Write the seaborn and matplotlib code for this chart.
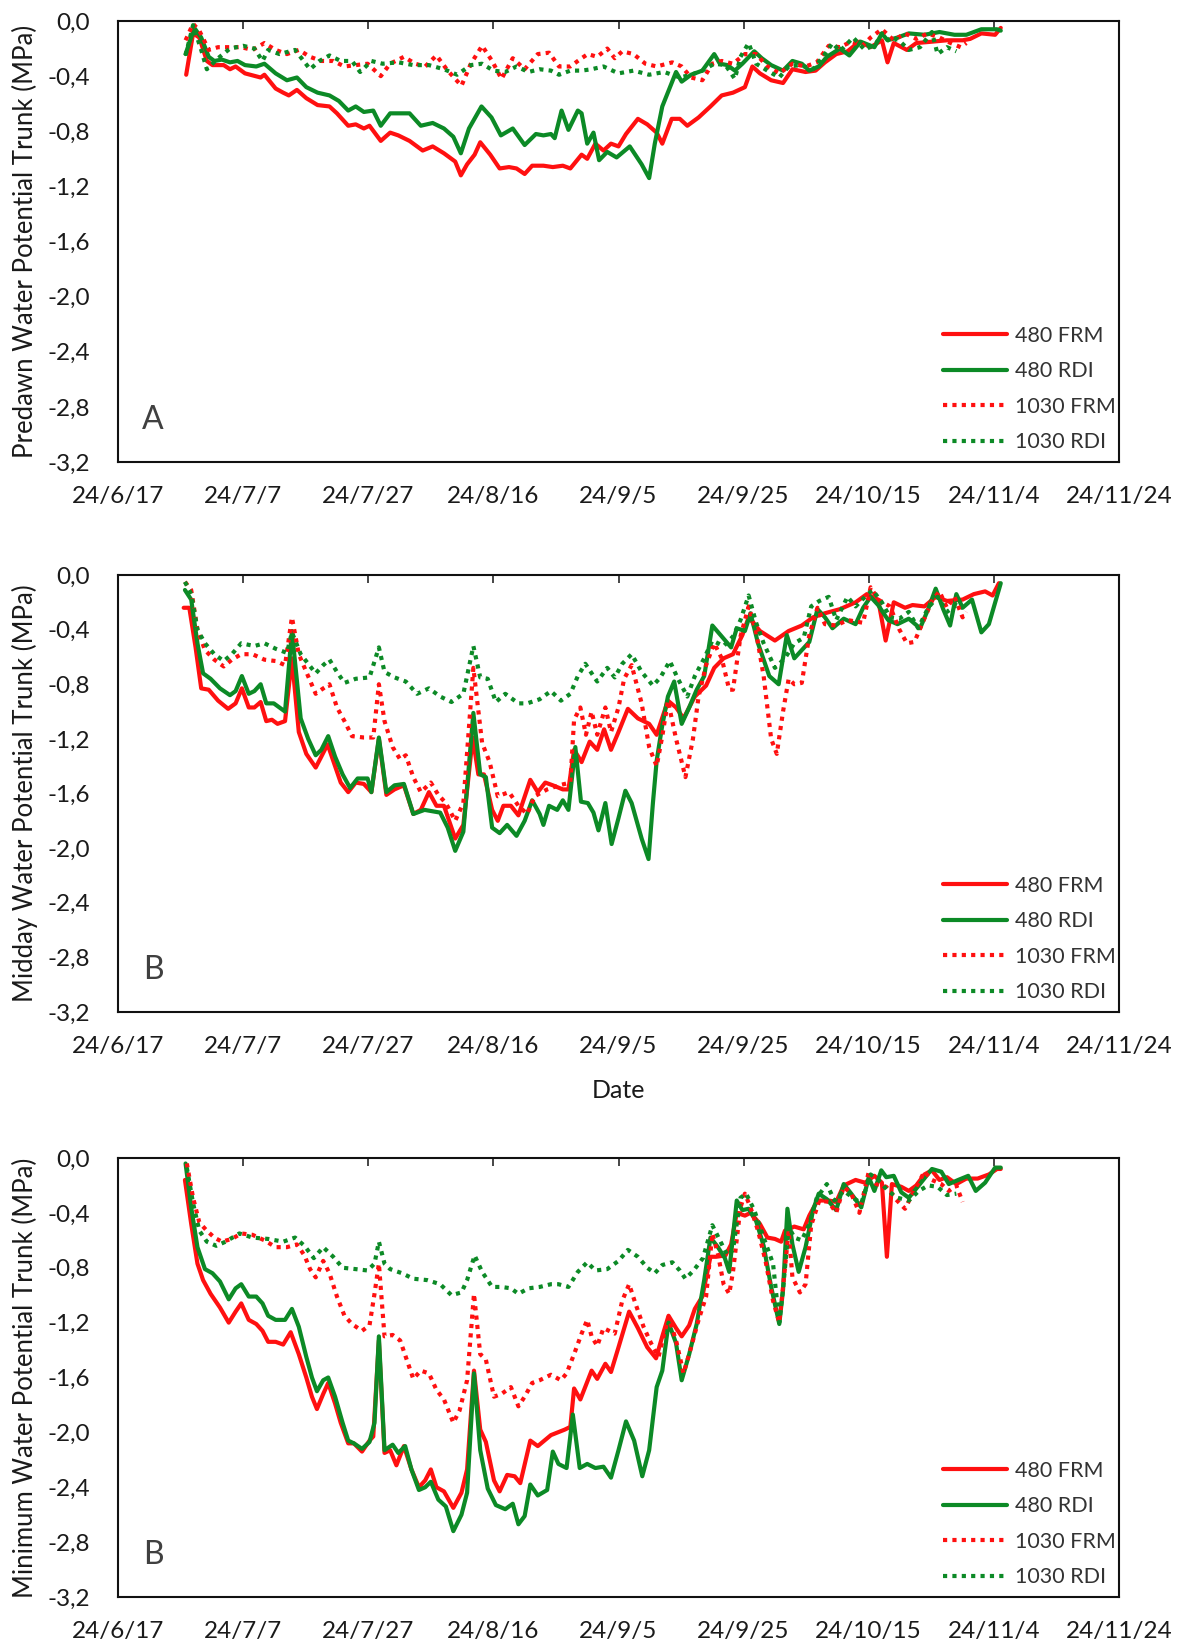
import matplotlib
matplotlib.use("Agg")
import matplotlib.pyplot as plt
from matplotlib.lines import Line2D
from matplotlib.ticker import FixedLocator, FuncFormatter
import pandas as pd
import seaborn as sns

# ---------------- data ----------------
BASE_DATE = "2024-06-17"
x_tick_days = [0, 20, 40, 60, 80, 100, 120, 140, 160]
x_tick_labels = ["24/6/17", "24/7/7", "24/7/27", "24/8/16", "24/9/5",
                 "24/9/25", "24/10/15", "24/11/4", "24/11/24"]
y_ticks = [0.0, -0.4, -0.8, -1.2, -1.6, -2.0, -2.4, -2.8, -3.2]
series_names = ["480 FRM", "480 RDI", "1030 FRM", "1030 RDI"]
panel_ylabels = ["Predawn Water Potential Trunk (MPa)",
                 "Midday Water Potential Trunk (MPa)",
                 "Minimum Water Potential Trunk (MPa)"]
panel_letters = ["A", "B", "B"]

# (days after 2024-06-17, MPa)
predawn_480_frm = [
    (10.9, -0.39), (12.0, -0.09), (13.0, -0.12), (14.2, -0.29), (15.1, -0.32), (16.9, -0.32),
    (17.9, -0.35), (18.8, -0.33), (20.3, -0.38), (22.8, -0.41), (23.4, -0.39), (25.2, -0.49),
    (26.4, -0.52), (27.3, -0.54), (28.6, -0.50), (30.1, -0.56), (31.9, -0.61), (33.8, -0.62),
    (35.0, -0.67), (36.8, -0.76), (38.0, -0.75), (39.3, -0.78), (40.2, -0.76), (42.0, -0.87),
    (43.5, -0.81), (44.8, -0.83), (46.6, -0.87), (48.7, -0.94), (50.3, -0.91), (52.1, -0.96),
    (53.9, -1.02), (54.8, -1.12), (55.8, -1.04), (57.0, -0.97), (57.9, -0.88), (59.5, -0.97),
    (61.0, -1.07), (62.5, -1.06), (63.7, -1.07), (65.0, -1.11), (66.2, -1.05), (68.0, -1.05),
    (69.5, -1.06), (71.1, -1.05), (72.3, -1.07), (74.1, -0.97), (75.0, -1.00), (76.3, -0.89),
    (77.6, -0.94), (78.8, -0.89), (80.0, -0.91), (81.2, -0.82), (83.1, -0.71), (84.6, -0.75),
    (86.1, -0.81), (87.0, -0.89), (88.5, -0.71), (89.8, -0.71), (91.0, -0.76), (92.8, -0.70),
    (94.7, -0.62), (96.5, -0.54), (98.3, -0.52), (100.2, -0.48), (101.4, -0.33), (102.6, -0.38),
    (104.4, -0.43), (106.3, -0.45), (107.8, -0.35), (109.9, -0.37), (111.5, -0.36), (113.0, -0.30),
    (114.8, -0.24), (116.6, -0.22), (118.5, -0.15), (120.3, -0.19), (122.1, -0.14), (123.0, -0.30),
    (124.0, -0.16), (126.1, -0.21), (127.6, -0.16), (130.1, -0.15), (132.5, -0.14), (135.0, -0.14),
    (136.2, -0.13), (138.0, -0.09), (140.2, -0.10), (141.1, -0.05)]
predawn_480_rdi = [
    (10.8, -0.24), (12.2, -0.05), (13.3, -0.12), (14.5, -0.26), (15.4, -0.29), (16.6, -0.28),
    (17.9, -0.30), (19.1, -0.29), (20.3, -0.32), (22.1, -0.33), (23.4, -0.31), (25.2, -0.38),
    (27.0, -0.43), (28.6, -0.41), (30.1, -0.48), (31.9, -0.52), (33.8, -0.54), (35.3, -0.58),
    (36.8, -0.65), (38.0, -0.62), (39.3, -0.66), (40.8, -0.65), (42.0, -0.76), (43.5, -0.67),
    (46.6, -0.67), (48.4, -0.76), (50.3, -0.74), (52.1, -0.78), (53.6, -0.84), (54.8, -0.96),
    (56.1, -0.78), (58.1, -0.62), (59.7, -0.70), (61.2, -0.83), (63.1, -0.78), (65.0, -0.90),
    (66.8, -0.82), (68.0, -0.83), (69.2, -0.82), (69.8, -0.85), (70.9, -0.65), (72.0, -0.79),
    (73.5, -0.65), (74.1, -0.67), (75.0, -0.89), (76.0, -0.81), (76.9, -1.01), (78.2, -0.95),
    (79.7, -0.99), (81.8, -0.91), (83.7, -1.04), (84.9, -1.14), (85.8, -0.89), (87.0, -0.62),
    (89.2, -0.37), (90.1, -0.44), (91.6, -0.39), (93.4, -0.36), (95.3, -0.24), (96.2, -0.31),
    (97.4, -0.32), (98.6, -0.36), (99.8, -0.31), (101.7, -0.22), (102.9, -0.27), (104.4, -0.32),
    (106.3, -0.36), (107.8, -0.29), (109.3, -0.31), (110.5, -0.36), (112.0, -0.33), (113.3, -0.26),
    (115.4, -0.20), (116.9, -0.25), (118.7, -0.15), (120.9, -0.19), (122.1, -0.09), (123.0, -0.14),
    (124.6, -0.12), (126.4, -0.09), (128.9, -0.10), (131.3, -0.08), (133.7, -0.10), (135.6, -0.10),
    (138.0, -0.06), (140.5, -0.06), (141.1, -0.07)]
predawn_1030_frm = [
    (10.8, -0.14), (12.0, -0.02), (13.0, -0.07), (14.5, -0.21), (16.0, -0.19), (17.9, -0.19),
    (19.7, -0.19), (21.5, -0.21), (23.4, -0.16), (25.2, -0.21), (27.0, -0.24), (28.9, -0.21),
    (30.7, -0.26), (32.5, -0.29), (34.4, -0.29), (36.2, -0.33), (38.0, -0.32), (39.9, -0.31),
    (42.0, -0.40), (43.5, -0.31), (45.7, -0.26), (47.5, -0.31), (49.1, -0.33), (50.9, -0.25),
    (52.7, -0.36), (54.9, -0.47), (56.4, -0.31), (58.2, -0.18), (59.8, -0.29), (61.3, -0.42),
    (63.1, -0.27), (65.0, -0.35), (67.1, -0.24), (68.9, -0.23), (70.5, -0.33), (72.3, -0.33),
    (74.1, -0.27), (75.1, -0.24), (76.6, -0.26), (78.2, -0.20), (79.4, -0.27), (80.6, -0.22),
    (82.4, -0.24), (84.3, -0.31), (86.1, -0.33), (88.6, -0.30), (90.1, -0.33), (91.6, -0.41),
    (93.4, -0.43), (95.0, -0.31), (96.5, -0.29), (98.3, -0.31), (100.2, -0.24), (102.0, -0.24),
    (103.8, -0.33), (105.7, -0.38), (107.8, -0.31), (109.9, -0.33), (111.7, -0.30), (113.6, -0.18),
    (115.4, -0.19), (117.2, -0.15), (119.0, -0.18), (120.3, -0.12), (122.1, -0.06), (124.0, -0.14),
    (125.8, -0.09), (127.6, -0.13), (129.4, -0.09), (131.3, -0.12), (133.1, -0.16), (134.7, -0.19),
    (135.6, -0.16)]
predawn_1030_rdi = [
    (10.8, -0.25), (12.0, -0.03), (13.3, -0.21), (14.2, -0.35), (16.0, -0.27), (17.9, -0.20),
    (20.0, -0.18), (21.8, -0.20), (23.1, -0.29), (24.0, -0.21), (25.8, -0.24), (28.3, -0.21),
    (30.7, -0.35), (32.2, -0.29), (33.8, -0.25), (35.6, -0.29), (37.4, -0.29), (38.7, -0.37),
    (40.5, -0.29), (42.3, -0.31), (44.8, -0.30), (47.2, -0.32), (49.7, -0.32), (52.1, -0.35),
    (54.2, -0.39), (56.4, -0.32), (58.2, -0.31), (60.0, -0.36), (61.9, -0.37), (63.7, -0.33),
    (65.6, -0.37), (67.4, -0.35), (69.2, -0.36), (70.5, -0.39), (72.3, -0.36), (74.1, -0.36),
    (75.7, -0.35), (77.6, -0.33), (80.0, -0.38), (82.4, -0.36), (84.9, -0.39), (87.3, -0.37),
    (89.8, -0.41), (91.6, -0.39), (93.4, -0.36), (95.3, -0.31), (97.1, -0.32), (98.6, -0.42),
    (99.5, -0.26), (100.8, -0.16), (102.0, -0.31), (103.8, -0.36), (105.7, -0.41), (107.2, -0.33),
    (109.0, -0.32), (111.1, -0.35), (113.0, -0.24), (114.2, -0.16), (115.4, -0.22), (117.5, -0.12),
    (119.4, -0.21), (121.2, -0.16), (122.1, -0.09), (123.4, -0.15), (124.6, -0.13), (126.4, -0.21),
    (128.2, -0.19), (130.1, -0.08), (131.0, -0.24), (132.5, -0.19), (134.0, -0.22)]

midday_480_frm = [
    (10.5, -0.24), (11.4, -0.24), (12.4, -0.53), (13.3, -0.83), (14.5, -0.84), (16.0, -0.92),
    (17.6, -0.98), (18.8, -0.94), (19.8, -0.83), (20.9, -0.97), (21.8, -0.97), (22.8, -0.93),
    (23.7, -1.07), (24.6, -1.06), (25.5, -1.09), (26.7, -1.07), (27.8, -0.61), (28.9, -1.15),
    (30.1, -1.31), (31.6, -1.41), (32.5, -1.33), (33.5, -1.24), (34.4, -1.36), (35.6, -1.52),
    (36.8, -1.59), (38.0, -1.52), (39.3, -1.53), (40.5, -1.59), (41.7, -1.20), (42.9, -1.61),
    (44.2, -1.57), (45.7, -1.54), (47.2, -1.75), (48.4, -1.72), (49.7, -1.59), (50.9, -1.69),
    (52.1, -1.69), (53.9, -1.93), (55.2, -1.83), (56.7, -1.19), (57.6, -1.46), (58.5, -1.46),
    (59.8, -1.72), (60.7, -1.80), (61.6, -1.69), (62.8, -1.69), (64.0, -1.76), (65.9, -1.50),
    (67.1, -1.59), (68.3, -1.52), (69.5, -1.54), (71.1, -1.57), (72.0, -1.57), (72.9, -1.28),
    (74.1, -1.37), (75.4, -1.22), (76.6, -1.28), (77.7, -1.13), (78.8, -1.28), (80.0, -1.15),
    (81.5, -0.98), (83.1, -1.05), (84.9, -1.09), (86.1, -1.17), (87.9, -0.92), (89.2, -0.97),
    (90.4, -1.05), (92.2, -0.89), (94.0, -0.81), (95.3, -0.68), (96.8, -0.61), (98.3, -0.58),
    (99.8, -0.44), (100.8, -0.31), (102.6, -0.41), (105.0, -0.48), (107.2, -0.41), (109.3, -0.37),
    (111.1, -0.31), (113.0, -0.28), (115.4, -0.25), (117.9, -0.20), (119.7, -0.14), (121.5, -0.18),
    (122.7, -0.48), (124.0, -0.20), (125.8, -0.24), (127.0, -0.22), (128.9, -0.23), (130.7, -0.16),
    (132.5, -0.19), (135.0, -0.18), (136.8, -0.14), (138.6, -0.12), (139.8, -0.15), (140.8, -0.06)]
midday_480_rdi = [
    (10.7, -0.11), (11.7, -0.18), (12.7, -0.50), (13.6, -0.72), (14.8, -0.76), (16.3, -0.83),
    (17.9, -0.88), (18.8, -0.85), (19.8, -0.74), (20.9, -0.87), (21.8, -0.85), (22.8, -0.80),
    (23.7, -0.94), (24.9, -0.94), (26.7, -1.00), (27.8, -0.41), (29.2, -1.05), (30.4, -1.20),
    (31.6, -1.32), (32.5, -1.28), (33.6, -1.18), (34.7, -1.33), (35.9, -1.46), (37.1, -1.56),
    (38.3, -1.49), (39.9, -1.49), (40.5, -1.59), (41.7, -1.19), (42.9, -1.59), (44.2, -1.54),
    (45.7, -1.53), (47.2, -1.75), (49.0, -1.72), (51.5, -1.74), (52.7, -1.85), (53.9, -2.02),
    (55.2, -1.88), (56.8, -1.01), (57.9, -1.46), (58.8, -1.48), (59.8, -1.85), (61.0, -1.89),
    (62.2, -1.83), (63.7, -1.91), (65.0, -1.80), (66.2, -1.65), (67.4, -1.75), (68.0, -1.83),
    (68.9, -1.69), (70.2, -1.72), (71.1, -1.65), (72.0, -1.72), (73.1, -1.26), (74.0, -1.66),
    (75.1, -1.67), (76.0, -1.74), (76.8, -1.87), (77.9, -1.67), (78.9, -1.97), (80.0, -1.78),
    (81.1, -1.58), (82.1, -1.67), (83.7, -1.93), (84.8, -2.08), (85.5, -1.67), (86.1, -1.36),
    (87.0, -1.10), (87.9, -0.89), (88.9, -0.78), (90.1, -1.09), (91.3, -0.97), (92.5, -0.84),
    (93.7, -0.74), (95.0, -0.37), (96.5, -0.45), (98.0, -0.53), (98.9, -0.39), (100.2, -0.41),
    (101.1, -0.28), (102.3, -0.50), (104.1, -0.74), (105.6, -0.80), (106.9, -0.44), (108.1, -0.61),
    (109.3, -0.55), (110.5, -0.49), (111.8, -0.25), (113.0, -0.31), (114.2, -0.39), (116.0, -0.32),
    (117.9, -0.36), (119.1, -0.24), (120.3, -0.16), (121.5, -0.22), (123.1, -0.33), (124.6, -0.36),
    (126.4, -0.32), (128.2, -0.39), (129.5, -0.25), (130.7, -0.10), (131.9, -0.25), (133.0, -0.37),
    (134.0, -0.14), (135.0, -0.24), (136.5, -0.18), (138.0, -0.42), (139.2, -0.36), (141.1, -0.06)]
midday_1030_frm = [
    (10.7, -0.05), (11.7, -0.11), (12.7, -0.40), (13.9, -0.55), (15.4, -0.62), (16.9, -0.67),
    (18.2, -0.62), (19.7, -0.58), (21.5, -0.58), (23.4, -0.62), (25.2, -0.63), (26.7, -0.66),
    (27.8, -0.31), (28.9, -0.58), (30.1, -0.71), (31.6, -0.87), (32.5, -0.84), (33.8, -0.80),
    (35.0, -0.97), (36.2, -1.07), (37.4, -1.18), (39.3, -1.19), (40.8, -1.19), (41.7, -0.80),
    (42.6, -1.07), (43.9, -1.26), (45.1, -1.35), (46.0, -1.32), (47.2, -1.48), (48.4, -1.59),
    (50.0, -1.52), (51.2, -1.61), (52.4, -1.67), (53.9, -1.80), (55.2, -1.67), (56.8, -0.68),
    (58.2, -1.23), (59.4, -1.37), (60.7, -1.62), (62.5, -1.59), (64.0, -1.69), (65.4, -1.75),
    (66.6, -1.62), (68.6, -1.57), (70.5, -1.54), (72.3, -1.52), (72.9, -1.06), (73.9, -0.97),
    (74.8, -1.17), (75.7, -1.00), (76.6, -1.17), (77.9, -0.97), (78.8, -1.15), (80.0, -0.97),
    (80.9, -0.76), (82.1, -0.66), (83.7, -0.94), (84.9, -1.26), (86.1, -1.40), (87.0, -1.18),
    (87.9, -0.92), (89.2, -1.20), (90.7, -1.48), (91.9, -1.20), (92.8, -0.89), (94.0, -0.66),
    (95.3, -0.50), (96.5, -0.61), (97.7, -0.84), (98.3, -0.84), (99.5, -0.45), (100.8, -0.23),
    (102.0, -0.42), (103.2, -0.74), (104.4, -1.20), (105.3, -1.31), (106.3, -1.00), (107.2, -0.76),
    (108.1, -0.80), (109.3, -0.79), (110.5, -0.44), (111.8, -0.24), (113.0, -0.36), (114.8, -0.37),
    (116.6, -0.33), (119.1, -0.35), (120.3, -0.09), (121.5, -0.18), (123.4, -0.23), (124.9, -0.40),
    (126.1, -0.50), (127.3, -0.49), (128.6, -0.35), (130.1, -0.19), (131.3, -0.12), (132.5, -0.24),
    (133.7, -0.16), (135.0, -0.31), (135.6, -0.27)]
midday_1030_rdi = [
    (10.7, -0.05), (11.7, -0.14), (12.7, -0.40), (13.9, -0.50), (15.4, -0.58), (16.9, -0.63),
    (18.2, -0.58), (19.7, -0.50), (21.8, -0.52), (23.4, -0.50), (25.2, -0.54), (27.0, -0.57),
    (27.8, -0.42), (29.2, -0.58), (30.4, -0.65), (31.6, -0.72), (32.8, -0.66), (33.8, -0.62),
    (35.0, -0.71), (36.2, -0.79), (38.0, -0.76), (40.2, -0.75), (41.7, -0.53), (42.6, -0.71),
    (44.2, -0.75), (46.0, -0.78), (47.8, -0.87), (49.7, -0.83), (51.5, -0.89), (53.3, -0.93),
    (55.2, -0.87), (56.8, -0.52), (57.9, -0.75), (59.1, -0.76), (60.4, -0.93), (61.9, -0.87),
    (64.0, -0.94), (65.4, -0.94), (67.4, -0.91), (69.2, -0.85), (70.8, -0.92), (72.3, -0.87),
    (73.5, -0.74), (74.7, -0.65), (76.0, -0.74), (76.6, -0.78), (78.2, -0.68), (79.4, -0.75),
    (80.6, -0.65), (82.1, -0.58), (83.7, -0.71), (85.5, -0.81), (86.7, -0.75), (88.2, -0.63),
    (89.5, -0.76), (91.0, -0.89), (92.2, -0.74), (93.7, -0.61), (95.0, -0.48), (96.8, -0.52),
    (98.3, -0.45), (99.5, -0.33), (100.8, -0.15), (102.0, -0.35), (103.2, -0.50), (105.0, -0.68),
    (106.6, -0.61), (108.1, -0.50), (109.6, -0.46), (110.8, -0.23), (112.1, -0.19), (113.6, -0.16),
    (114.8, -0.33), (116.6, -0.16), (117.9, -0.23), (119.4, -0.16), (120.6, -0.11), (122.1, -0.20),
    (123.4, -0.31), (124.9, -0.32), (126.4, -0.27), (127.9, -0.39), (129.5, -0.24), (131.0, -0.16),
    (132.5, -0.27), (134.0, -0.22), (135.0, -0.24)]

minimum_480_frm = [
    (10.7, -0.16), (11.7, -0.48), (12.7, -0.77), (13.6, -0.89), (14.8, -0.99), (16.3, -1.09),
    (17.7, -1.20), (18.8, -1.12), (19.7, -1.06), (20.9, -1.18), (22.1, -1.21), (23.1, -1.26),
    (24.0, -1.34), (25.2, -1.34), (26.4, -1.36), (27.6, -1.27), (28.9, -1.43), (30.1, -1.60),
    (31.0, -1.74), (31.8, -1.83), (32.8, -1.72), (33.6, -1.64), (34.7, -1.79), (35.6, -1.93),
    (36.8, -2.08), (37.7, -2.08), (39.0, -2.14), (40.2, -2.06), (40.8, -2.03), (41.7, -1.33),
    (42.6, -2.15), (43.5, -2.13), (44.5, -2.24), (45.7, -2.10), (46.9, -2.27), (48.1, -2.40),
    (49.1, -2.35), (50.0, -2.27), (50.9, -2.40), (52.1, -2.43), (53.6, -2.55), (54.9, -2.44),
    (55.8, -2.27), (56.9, -1.55), (57.9, -1.98), (58.8, -2.07), (60.1, -2.35), (61.0, -2.43),
    (62.2, -2.31), (63.4, -2.32), (64.3, -2.37), (65.9, -2.06), (67.1, -2.10), (69.2, -2.02),
    (71.4, -1.98), (72.3, -1.96), (72.9, -1.68), (73.9, -1.76), (75.7, -1.55), (76.6, -1.61),
    (77.9, -1.50), (78.8, -1.56), (80.0, -1.38), (81.7, -1.12), (83.1, -1.24), (84.6, -1.38),
    (86.0, -1.46), (87.0, -1.30), (88.0, -1.15), (89.2, -1.24), (90.1, -1.30), (91.3, -1.22),
    (92.2, -1.10), (93.4, -1.01), (94.7, -0.72), (95.6, -0.72), (97.1, -0.71), (98.0, -0.63),
    (98.9, -0.40), (100.2, -0.42), (101.1, -0.40), (102.6, -0.48), (103.8, -0.58), (105.0, -0.59),
    (106.0, -0.61), (106.6, -0.53), (108.1, -0.50), (109.6, -0.52), (110.5, -0.42), (111.8, -0.31),
    (113.6, -0.31), (114.8, -0.32), (116.0, -0.20), (117.9, -0.16), (119.4, -0.18), (120.9, -0.13),
    (122.1, -0.18), (122.9, -0.72), (123.7, -0.19), (125.2, -0.21), (126.4, -0.24), (127.6, -0.20),
    (128.9, -0.12), (130.1, -0.09), (131.3, -0.16), (132.5, -0.14), (134.0, -0.19), (135.6, -0.15),
    (137.4, -0.15), (139.2, -0.12), (140.5, -0.08), (141.1, -0.08)]
minimum_480_rdi = [
    (10.8, -0.04), (11.7, -0.36), (12.7, -0.65), (13.9, -0.81), (15.1, -0.84), (16.3, -0.90),
    (17.7, -1.03), (18.8, -0.95), (19.7, -0.92), (20.9, -1.01), (22.1, -1.01), (23.1, -1.06),
    (24.0, -1.15), (25.2, -1.18), (26.7, -1.18), (27.8, -1.10), (28.9, -1.23), (30.1, -1.45),
    (31.0, -1.60), (31.8, -1.70), (32.8, -1.62), (33.6, -1.60), (34.7, -1.74), (35.9, -1.93),
    (36.8, -2.06), (37.7, -2.08), (39.0, -2.12), (40.2, -2.07), (41.0, -1.93), (41.7, -1.30),
    (42.6, -2.13), (43.9, -2.09), (44.8, -2.15), (45.9, -2.10), (46.9, -2.27), (48.1, -2.42),
    (49.1, -2.40), (50.0, -2.36), (51.2, -2.49), (52.4, -2.54), (53.6, -2.72), (54.9, -2.60),
    (55.8, -2.44), (56.9, -1.57), (57.9, -2.13), (59.1, -2.41), (60.4, -2.53), (61.9, -2.56),
    (63.1, -2.52), (64.0, -2.67), (65.0, -2.61), (65.9, -2.38), (67.1, -2.46), (68.6, -2.42),
    (69.5, -2.14), (70.4, -2.23), (71.7, -2.26), (72.7, -1.87), (73.8, -2.26), (75.0, -2.23),
    (76.3, -2.26), (77.6, -2.25), (78.8, -2.33), (80.0, -2.13), (81.2, -1.92), (82.5, -2.06),
    (83.8, -2.32), (84.9, -2.13), (86.1, -1.67), (87.0, -1.55), (88.0, -1.20), (89.2, -1.35),
    (90.1, -1.62), (91.3, -1.43), (92.5, -1.21), (93.7, -0.89), (94.7, -0.58), (95.9, -0.65),
    (97.0, -0.73), (97.7, -0.83), (98.9, -0.31), (99.8, -0.38), (100.8, -0.37), (102.0, -0.46),
    (103.2, -0.64), (104.4, -0.94), (105.7, -1.21), (106.3, -0.96), (107.0, -0.37), (107.8, -0.63),
    (108.8, -0.83), (109.9, -0.65), (111.1, -0.38), (112.0, -0.26), (113.3, -0.30), (114.8, -0.38),
    (116.0, -0.19), (117.2, -0.26), (118.8, -0.36), (120.0, -0.14), (120.9, -0.24), (122.0, -0.09),
    (122.8, -0.14), (124.0, -0.13), (125.2, -0.25), (126.4, -0.29), (128.0, -0.20), (130.1, -0.08),
    (131.6, -0.10), (132.8, -0.19), (134.3, -0.16), (135.9, -0.13), (137.1, -0.24), (138.6, -0.18),
    (140.2, -0.07), (141.1, -0.07)]
minimum_1030_frm = [
    (11.0, -0.04), (12.0, -0.29), (13.0, -0.47), (14.2, -0.53), (15.4, -0.58), (16.6, -0.61),
    (18.2, -0.59), (19.7, -0.55), (21.5, -0.56), (23.4, -0.60), (25.2, -0.65), (27.0, -0.65),
    (28.6, -0.63), (29.8, -0.71), (30.7, -0.81), (31.6, -0.87), (32.8, -0.75), (33.8, -0.84),
    (35.0, -1.01), (36.2, -1.15), (37.4, -1.21), (39.0, -1.26), (40.2, -1.22), (41.0, -0.99),
    (41.7, -0.77), (42.6, -1.30), (43.9, -1.29), (45.1, -1.33), (46.0, -1.45), (47.2, -1.61),
    (48.4, -1.55), (49.7, -1.57), (50.9, -1.69), (52.1, -1.76), (53.6, -1.93), (54.6, -1.84),
    (55.8, -1.62), (56.9, -0.99), (57.9, -1.43), (58.8, -1.47), (60.1, -1.74), (61.3, -1.72),
    (62.8, -1.67), (64.0, -1.81), (65.0, -1.74), (66.2, -1.64), (67.4, -1.62), (69.2, -1.58),
    (70.8, -1.62), (71.7, -1.57), (72.9, -1.43), (74.1, -1.28), (75.0, -1.18), (75.7, -1.30),
    (76.6, -1.37), (77.6, -1.24), (78.5, -1.26), (79.4, -1.28), (80.6, -1.04), (81.7, -0.92),
    (82.7, -1.06), (84.0, -1.23), (85.2, -1.35), (86.4, -1.45), (87.3, -1.28), (88.0, -1.16),
    (89.2, -1.33), (90.4, -1.57), (91.6, -1.38), (92.8, -1.18), (94.0, -1.01), (95.0, -0.55),
    (95.9, -0.70), (96.8, -0.92), (97.7, -0.99), (98.3, -0.83), (99.5, -0.36), (100.2, -0.26),
    (101.1, -0.36), (102.3, -0.53), (103.5, -0.75), (104.7, -1.04), (105.7, -1.20), (106.3, -0.94),
    (107.2, -0.53), (107.8, -0.87), (109.0, -0.98), (109.9, -0.92), (110.8, -0.49), (112.1, -0.31),
    (113.6, -0.32), (114.8, -0.40), (116.0, -0.21), (117.2, -0.26), (118.5, -0.40), (120.0, -0.10),
    (121.2, -0.19), (122.8, -0.21), (124.3, -0.30), (125.8, -0.37), (127.0, -0.26), (128.9, -0.10),
    (130.1, -0.16), (131.6, -0.19), (132.8, -0.24), (134.0, -0.20), (135.0, -0.32)]
minimum_1030_rdi = [
    (11.0, -0.07), (12.0, -0.33), (13.0, -0.53), (14.2, -0.61), (15.7, -0.64), (17.2, -0.61),
    (19.4, -0.55), (21.5, -0.58), (24.0, -0.59), (26.4, -0.61), (28.3, -0.58), (29.8, -0.64),
    (31.3, -0.73), (32.8, -0.65), (34.4, -0.72), (35.9, -0.80), (38.0, -0.81), (39.9, -0.82),
    (41.0, -0.77), (41.7, -0.61), (42.6, -0.77), (43.5, -0.81), (45.4, -0.84), (47.2, -0.88),
    (49.4, -0.89), (51.5, -0.92), (53.3, -1.00), (54.9, -0.98), (55.8, -0.89), (57.0, -0.71),
    (58.2, -0.83), (59.8, -0.94), (61.3, -0.94), (62.8, -0.95), (64.0, -0.99), (65.6, -0.95),
    (67.4, -0.94), (69.2, -0.92), (70.4, -0.92), (72.0, -0.94), (73.5, -0.83), (75.0, -0.76),
    (76.3, -0.82), (78.2, -0.81), (80.0, -0.75), (81.5, -0.67), (83.1, -0.72), (84.6, -0.80),
    (85.8, -0.84), (87.0, -0.78), (88.6, -0.76), (89.8, -0.82), (90.7, -0.88), (92.0, -0.82),
    (93.5, -0.73), (95.0, -0.49), (96.2, -0.60), (97.4, -0.71), (98.3, -0.67), (99.5, -0.29),
    (100.4, -0.26), (101.7, -0.38), (103.2, -0.58), (104.7, -0.77), (105.7, -1.20), (106.3, -0.96),
    (107.2, -0.50), (108.1, -0.58), (109.3, -0.60), (110.5, -0.48), (111.7, -0.29), (113.3, -0.19),
    (114.5, -0.31), (116.0, -0.24), (117.5, -0.29), (118.8, -0.33), (120.3, -0.12), (121.5, -0.16),
    (123.1, -0.24), (124.6, -0.29), (126.4, -0.31), (128.0, -0.24), (129.5, -0.20), (131.0, -0.21),
    (132.5, -0.27), (134.0, -0.26)]

panels = [
    [predawn_480_frm, predawn_480_rdi, predawn_1030_frm, predawn_1030_rdi],
    [midday_480_frm, midday_480_rdi, midday_1030_frm, midday_1030_rdi],
    [minimum_480_frm, minimum_480_rdi, minimum_1030_frm, minimum_1030_rdi],
]

# ---------------- style ----------------
RED = "#FF1010"
GREEN = "#0C8A26"
palette = {"480 FRM": RED, "480 RDI": GREEN, "1030 FRM": RED, "1030 RDI": GREEN}
DOT = (1.0, 1.25)
dashes = {"480 FRM": "", "480 RDI": "", "1030 FRM": DOT, "1030 RDI": DOT}

sns.set_style("white")
plt.rcParams["font.family"] = ["Lato", "DejaVu Sans"]
TXT = "#1a1a1a"

fig = plt.figure(figsize=(11.8, 16.47), dpi=100)
W = 1180.0
H = 1647.0
boxes = [(21, 462), (575, 1012), (1158, 1597)]
base = pd.Timestamp(BASE_DATE)

def to_date(d):
    return base + pd.to_timedelta(d, unit="D")

for i, (top, bot) in enumerate(boxes):
    ax = fig.add_axes([118 / W, 1 - bot / H, 1001 / W, (bot - top) / H])
    frames = []
    for name, pts in zip(series_names, panels[i]):
        df = pd.DataFrame(pts, columns=["day", "value"])
        df["date"] = to_date(df["day"])
        df["series"] = name
        frames.append(df)
    data = pd.concat(frames, ignore_index=True)
    sns.lineplot(data=data, x="date", y="value", hue="series", style="series",
                 hue_order=series_names, style_order=series_names,
                 palette=palette, dashes=dashes, estimator=None, sort=False,
                 linewidth=3.0, legend=False, ax=ax)
    for ln in ax.get_lines():
        ln.set_solid_joinstyle("round")

    ax.set_xlim(to_date(x_tick_days[0]), to_date(x_tick_days[-1]))
    ax.set_ylim(-3.2, 0.0)
    ax.xaxis.set_major_locator(FixedLocator([matplotlib.dates.date2num(to_date(d)) for d in x_tick_days]))
    ax.set_xticklabels(x_tick_labels)
    ax.yaxis.set_major_locator(FixedLocator(y_ticks))
    ax.yaxis.set_major_formatter(FuncFormatter(
        lambda v, p: ("%.1f" % v).replace(".", ",").replace("-0,0", "0,0")))
    ax.tick_params(axis="x", which="both", top=True, bottom=False, labeltop=False,
                   labelbottom=True, direction="in", length=6, width=1.2,
                   pad=17, labelsize=17.5, labelcolor=TXT)
    ax.tick_params(axis="y", direction="in", length=6, width=1.2, pad=20,
                   labelsize=17.5, labelcolor=TXT)
    for s in ax.spines.values():
        s.set_visible(True)
        s.set_color("#111111")
        s.set_linewidth(1.5)
    ax.set_ylabel(panel_ylabels[i], fontsize=18.5, color=TXT)
    ax.yaxis.set_label_coords(-0.08, 0.5)
    if i == 1:
        ax.set_xlabel("Date", fontsize=18, color=TXT, labelpad=16)
    else:
        ax.set_xlabel("")
    ax.text(0.035, 0.095, panel_letters[i], transform=ax.transAxes,
            fontsize=23, color="#404040", ha="center", va="center")

    handles = [Line2D([], [], color=palette[n], linewidth=3.0,
                      linestyle="-" if dashes[n] == "" else (0, DOT)) for n in series_names]
    leg = ax.legend(handles, series_names, loc="lower left",
                    bbox_to_anchor=(0.824, 0.022), frameon=False, fontsize=15.5,
                    handlelength=3.0, handletextpad=0.35, labelspacing=0.72,
                    borderpad=0, borderaxespad=0)
    for t in leg.get_texts():
        t.set_color("#333333")

fig.savefig("out.png", dpi=100)
